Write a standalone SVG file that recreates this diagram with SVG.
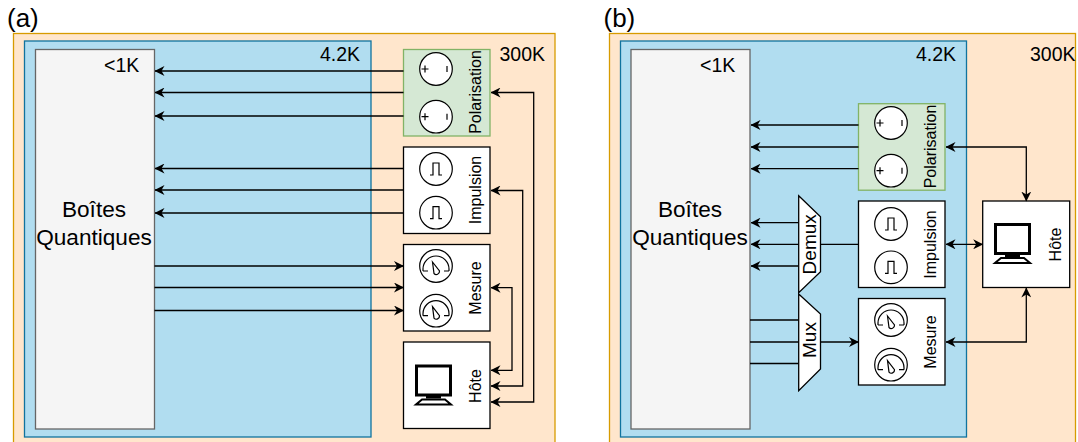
<svg xmlns="http://www.w3.org/2000/svg" width="1078" height="442" viewBox="0 0 1078 442">
<style>
text{font-family:"Liberation Sans",Arial,sans-serif;fill:#000}
.outer{fill:#ffe6cc;stroke:#d79b00;stroke-width:1.3}
.cold{fill:#b1ddf0;stroke:#10739e;stroke-width:1.3}
.qd{fill:#f5f5f5;stroke:#666;stroke-width:1.3}
.box{fill:#fff;stroke:#000;stroke-width:1.3}
.green{fill:#d5e8d4;stroke:#82b366;stroke-width:1.3}
.ic{fill:#fff;stroke:#000;stroke-width:1.2}
.gl{fill:none;stroke:#000;stroke-width:1.2}
.c{fill:none;stroke:#000;stroke-width:1.3}
.t19{font-size:19.500px}
.t21{font-size:22.600px;text-anchor:middle}
.r{font-size:16px;text-anchor:middle}
.r19{font-size:19px;text-anchor:middle}
.p{font-size:26px}
</style>
<defs>
<marker id="a" viewBox="0 0 10 10" refX="9.500" refY="5" markerWidth="10" markerHeight="10" markerUnits="userSpaceOnUse" orient="auto-start-reverse"><path d="M0 0L10 5L0 10L3 5Z" fill="#000"/></marker>
<g id="bias"><circle class="ic" r="16.300"/><path class="gl" d="M-14.500 0h7M-11-3.500v7M11-3v6"/></g>
<g id="pulse"><circle class="ic" r="16.300"/><path class="gl" d="M-6 6h3v-12h6v12h3"/></g>
<g id="gauge"><circle class="ic" r="16.300"/><path class="gl" d="M-13 5v-2a13 13 0 0 1 26 0v2M-13 5h5M13 5h-5"/><path class="gl" d="M-3.500-4L3.500 5a3.200 3.200 0 0 1-5.500 2.500Z" stroke-width="1.500"/></g>
<g id="pc"><path d="M1.500 1.500h34v29h-34z" fill="#fff" stroke="#000" stroke-width="3"/><path d="M11 31h15v3h-15z" fill="#000"/><path d="M7 35h23l6 5H1z" fill="#fff" stroke="#000" stroke-width="2"/></g>
</defs>

<g id="panel-a-labels"><text class="p" x="7" y="26.500">(a)</text></g>
<g id="temp-a-300K"><rect class="outer" x="13.500" y="33.500" width="541.500" height="420"/><text class="t19" x="499.500" y="60.500">300K</text></g>
<g id="temp-a-4K"><rect class="cold" x="24.500" y="41" width="346.500" height="396"/><text class="t19" x="320" y="60.500">4.2K</text></g>
<g id="qd-a"><rect class="qd" x="35.500" y="49.500" width="119" height="379.500"/><text class="t19" x="104" y="71.500">&lt;1K</text><text class="t21" x="94" y="216.700">Boîtes</text><text class="t21" x="94" y="244.500">Quantiques</text></g>
<g id="pol-a"><rect class="green" x="403.500" y="49.500" width="86.500" height="86.500"/><use href="#bias" x="436" y="69"/><use href="#bias" x="436" y="116.700"/><text class="r" transform="translate(481 92) rotate(-90)">Polarisation</text></g>
<g id="imp-a"><rect class="box" x="403.500" y="147" width="86.500" height="86.500"/><use href="#pulse" x="436" y="169"/><use href="#pulse" x="436" y="212.700"/><text class="r" transform="translate(481 190) rotate(-90)">Impulsion</text></g>
<g id="mes-a"><rect class="box" x="403.500" y="244.500" width="86.500" height="86.500"/><use href="#gauge" x="436" y="266"/><use href="#gauge" x="436" y="310.700"/><text class="r" transform="translate(481 288) rotate(-90)">Mesure</text></g>
<g id="host-a"><rect class="box" x="403.500" y="342" width="86.500" height="86.500"/><use href="#pc" x="415" y="364.500"/><text class="r" transform="translate(481 386) rotate(-90)">Hôte</text></g>

<g id="panel-b-labels"><text class="p" x="603.500" y="26.500">(b)</text></g>
<g id="temp-b-300K"><rect class="outer" x="609.500" y="33.500" width="466" height="420"/><text class="t19" x="1030" y="60.500">300K</text></g>
<g id="temp-b-4K"><rect class="cold" x="620.500" y="41" width="346" height="396"/><text class="t19" x="916" y="60.500">4.2K</text></g>
<g id="qd-b"><rect class="qd" x="631" y="49.500" width="119" height="379.500"/><text class="t19" x="700" y="71.500">&lt;1K</text><text class="t21" x="690" y="216.700">Boîtes</text><text class="t21" x="690" y="244.500">Quantiques</text></g>
<g id="pol-b"><rect class="green" x="858.500" y="103.700" width="86.500" height="86.500"/><use href="#bias" x="891" y="123"/><use href="#bias" x="891" y="170.700"/><text class="r" transform="translate(936 146.500) rotate(-90)">Polarisation</text></g>
<g id="imp-b"><rect class="box" x="858.500" y="201" width="86.500" height="86.500"/><use href="#pulse" x="891" y="224"/><use href="#pulse" x="891" y="267.300"/><text class="r" transform="translate(936 244.500) rotate(-90)">Impulsion</text></g>
<g id="mes-b"><rect class="box" x="858.500" y="298.500" width="86.500" height="86.500"/><use href="#gauge" x="891" y="320"/><use href="#gauge" x="891" y="364.700"/><text class="r" transform="translate(936 342) rotate(-90)">Mesure</text></g>
<g id="host-b"><rect class="box" x="982.700" y="201" width="87" height="86.500"/><use href="#pc" x="994" y="223"/><text class="r" transform="translate(1060.500 244.500) rotate(-90)">Hôte</text></g>

<g id="connectors">
<path class="c" marker-end="url(#a)" d="M403.500 71H155"/><path class="c" marker-end="url(#a)" d="M403.500 92.500H155"/><path class="c" marker-end="url(#a)" d="M403.500 116H155"/>
<path class="c" marker-end="url(#a)" d="M403.500 168.500H155"/><path class="c" marker-end="url(#a)" d="M403.500 190H155"/><path class="c" marker-end="url(#a)" d="M403.500 213H155"/>
<path class="c" marker-end="url(#a)" d="M154.500 266H403.500"/><path class="c" marker-end="url(#a)" d="M154.500 287.500H403.500"/><path class="c" marker-end="url(#a)" d="M154.500 310.500H403.500"/>
<path class="c" marker-start="url(#a)" marker-end="url(#a)" d="M491 92.500H533.700V402H491"/>
<path class="c" marker-start="url(#a)" marker-end="url(#a)" d="M491 190.500H522.700V386H491"/>
<path class="c" marker-start="url(#a)" marker-end="url(#a)" d="M491 287.700H512V370.300H491"/>
<path class="c" marker-end="url(#a)" d="M858.500 125H751"/><path class="c" marker-end="url(#a)" d="M858.500 147H751"/><path class="c" marker-end="url(#a)" d="M858.500 168.700H751"/>
<path class="c" marker-end="url(#a)" d="M798.700 222.700H751"/><path class="c" marker-end="url(#a)" d="M798.700 244.300H751"/><path class="c" marker-end="url(#a)" d="M798.700 266H751"/>
<path class="c" d="M820.500 244.300H858.500"/>
<path class="c" d="M750 320H798.700M750 342H798.700M750 363.500H798.700"/>
<path class="c" marker-end="url(#a)" d="M820.500 342H858.500"/>
<path class="c" marker-start="url(#a)" marker-end="url(#a)" d="M946 147H1026.300V201"/>
<path class="c" marker-start="url(#a)" marker-end="url(#a)" d="M946 244.300H982.700"/>
<path class="c" marker-start="url(#a)" marker-end="url(#a)" d="M946 342H1026.300V288"/>
</g>
<g id="demux-b"><path class="box" d="M798.700 195.700L820.500 216.700V271.700L798.700 292.700Z"/><text class="r19" transform="translate(816 244.300) rotate(-90)">Demux</text></g>
<g id="mux-b"><path class="box" d="M798.700 294L820.500 314V369L798.700 390.700Z"/><text class="r19" transform="translate(816 340) rotate(-90)">Mux</text></g>
</svg>
